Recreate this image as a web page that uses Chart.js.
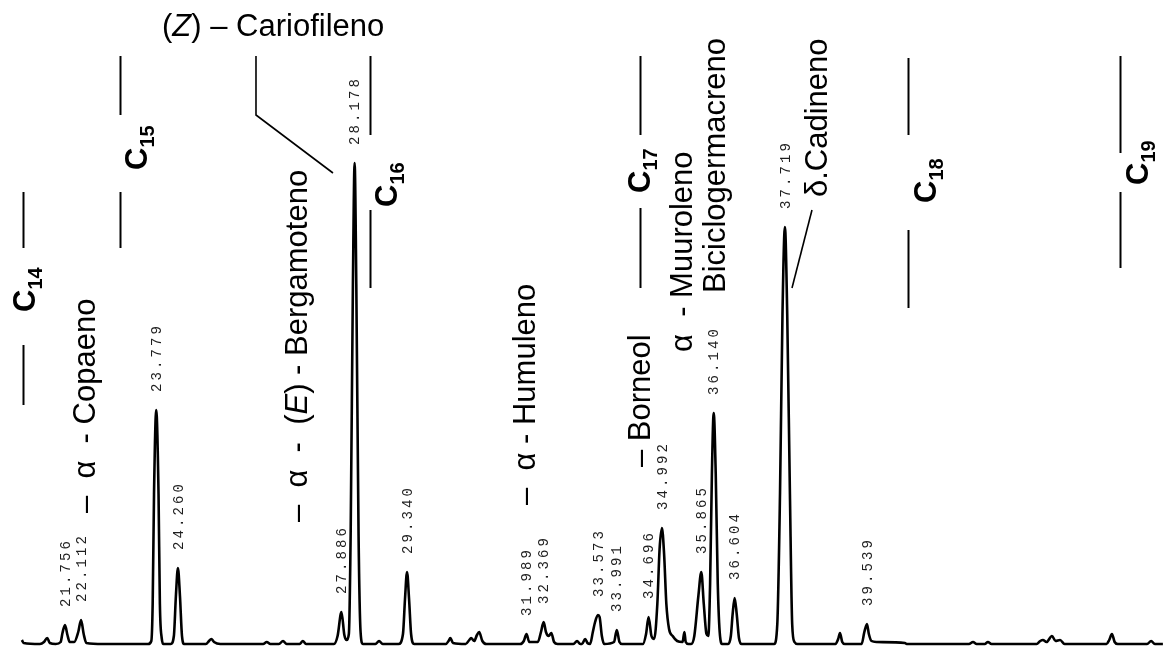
<!DOCTYPE html>
<html>
<head>
<meta charset="utf-8">
<script src="https://cdn.jsdelivr.net/npm/chart.js@4.4.1/dist/chart.umd.min.js"></script>
<style>
    html, body { margin: 0; padding: 0; background: #fff; }
    #wrap { width: 1164px; height: 651px; position: relative; }
</style>
</head>
<body>
<div id="wrap"><canvas id="chromatogram"></canvas></div>
<script>
// labelled peaks: retention time (min) and detector signal at the apex
const peakTimes = [21.756, 22.112, 23.779, 24.260, 27.886, 28.178, 29.340, 31.989, 32.369,
    33.573, 33.991, 34.696, 34.992, 35.865, 36.140, 36.604, 37.719, 39.539];
const peakHeights = [19, 24, 234, 76, 32, 481, 72, 10, 22, 29, 14, 27, 116, 72, 231, 46, 417, 20];

// rest of the trace (flanks, baseline, small unlabelled peaks)
const traceTimes = [
    20.80, 20.84, 21.20, 21.29, 21.36, 21.42, 21.55, 21.66, 21.70, 21.81, 21.86, 21.96, 22.05,
    22.17, 22.23, 22.60, 23.60, 23.67, 23.70, 23.73, 23.83, 23.86, 23.90, 23.94,
    24.10, 24.17, 24.215, 24.305, 24.35, 24.40, 24.88, 24.95, 25.00, 25.06, 25.20,
    26.15, 26.23, 26.31, 26.50, 26.59, 26.67, 26.96, 27.03, 27.10, 27.72, 27.80,
    27.95, 28.00, 28.05, 28.09, 28.14, 28.215, 28.265, 28.31, 28.36, 28.64, 28.72, 28.80,
    29.15, 29.25, 29.295, 29.385, 29.43, 29.50, 30.20, 30.26, 30.30, 30.36, 30.64, 30.72,
    30.76, 30.83, 30.89, 30.94, 31.01, 31.10, 31.85, 31.93, 32.05, 32.24, 32.31,
    32.42, 32.48, 32.54, 32.60, 32.68, 33.03, 33.11, 33.18, 33.22, 33.29, 33.34, 33.40,
    33.46, 33.51, 33.61, 33.66, 33.71, 33.93, 34.05, 34.11, 34.57, 34.64,
    34.76, 34.82, 34.89, 34.94, 35.04, 35.09, 35.15, 35.23, 35.33, 35.45, 35.49, 35.52,
    35.58, 35.64, 35.71, 35.80, 35.92, 35.98, 36.02, 36.06, 36.10, 36.185, 36.23, 36.28,
    36.33, 36.46, 36.52, 36.56, 36.65, 36.70, 36.76, 37.48, 37.55, 37.61, 37.665,
    37.77, 37.83, 37.88, 37.93, 38.00, 38.84, 38.90, 38.94, 38.99, 39.05, 39.42, 39.48,
    39.58, 39.64, 39.75, 40.38, 40.42, 41.80, 41.89, 41.97, 42.15, 42.22,
    42.30, 43.30, 43.38, 43.44, 43.52, 43.64, 43.72, 43.82, 43.92, 44.85, 44.91, 44.97,
    45.03, 45.10, 45.75, 45.84, 45.92, 46.10
];
const traceSignal = [
    4, 1, 0, 2, 6, 1, 0, 2, 11, 9, 2, 2, 12,
    10, 1, 0, 0, 3, 40, 150, 150, 40, 6, 0,
    0, 8, 48, 48, 8, 0, 0, 3, 5, 2, 0,
    0, 2, 0, 0, 3, 0, 0, 3, 0, 0, 8,
    9, 4, 10, 110, 360, 360, 110, 12, 0, 0, 3, 0,
    0, 10, 45, 45, 10, 0, 0, 3, 6, 1, 0, 4,
    6, 3, 9, 12, 3, 0, 0, 3, 2, 2, 12,
    12, 8, 11, 2, 0, 0, 3, 0, 0, 5, 1, 0,
    12, 22, 27, 8, 0, 2, 2, 0, 0, 10,
    8, 5, 40, 95, 90, 40, 15, 8, 3, 2, 12, 2,
    0, 0, 8, 48, 40, 10, 8, 60, 170, 170, 60, 8,
    0, 0, 8, 30, 30, 6, 0, 0, 20, 150, 330,
    330, 150, 20, 2, 0, 0, 5, 11, 2, 0, 0, 12,
    10, 3, 2, 1, 0, 0, 2, 0, 0, 2,
    0, 0, 3, 4, 2, 8, 3, 4, 0, 0, 4, 10,
    2, 0, 0, 3, 0, 0
];

// compound names (rotated); *...* marks italic parts
const compoundNames = ['–  α  - Copaeno', '–  α  -  (*E*) - Bergamoteno', '–  α - Humuleno', '– Borneol',
    'α  - Muuroleno', 'Biciclogermacreno', 'δ.Cadineno'];
const compoundTimes = [22.42, 27.12, 32.18, 34.73, 35.66, 36.39, 38.65];
const compoundLevels = [131, 122, 139, 177, 292, 351, 447];

// horizontal name above the main peak, with its leader
const topName = '(*Z*) – Cariofileno';
const topNameTime = 23.907;
const topNameLevel = 608;
const leaderTimes = [[25.991, 25.991, 27.698], [38.319, 37.876]];
const leaderLevels = [[588, 529, 471], [434, 356]];

// n-alkane reference markers
const alkaneNumbers = ['14', '15', '16', '17', '18', '19'];
const alkaneTimes = [20.825, 22.976, 28.519, 34.506, 40.448, 45.148];
const alkaneSegments = [
    [[452, 396], [299, 239]],
    [[588, 529], [452, 396]],
    [[588, 509], [434, 356]],
    [[588, 509], [436, 356]],
    [[586, 509], [414, 336]],
    [[588, 491], [452, 376]]
];
const alkaneLabelTimes = [21.09, 23.57, 29.12, 34.73, 41.07, 45.77];
const alkaneLabelLevels = [332, 474, 437, 451, 441, 459];

const X_MIN = 20.3148;
const X_MAX = 46.1245;
const Y_MIN = -7;
const Y_MAX = 644;

function buildTrace() {
    const pts = [];
    traceTimes.forEach((t, i) => pts.push({ x: t, y: traceSignal[i] }));
    peakTimes.forEach((t, i) => pts.push({ x: t, y: peakHeights[i] }));
    pts.sort((a, b) => a.x - b.x);
    return pts;
}

const SANS = '"Liberation Sans", Arial, sans-serif';

function runs(text) {
    return text.split('*').map((s, i) => ({ text: s, italic: i % 2 === 1 }));
}

// draws text runs starting at the current origin, along the local x axis
function drawRuns(ctx, parts, size) {
    let off = 0;
    parts.forEach(p => {
        if (!p.text) return;
        ctx.font = (p.italic ? 'italic ' : '') + size + 'px ' + SANS;
        ctx.fillText(p.text, off, 0);
        off += ctx.measureText(p.text).width;
    });
}

const annotations = {
    id: 'annotations',
    afterDatasetsDraw(chart) {
        const ctx = chart.ctx;
        const xs = chart.scales.x;
        const ys = chart.scales.y;
        ctx.save();
        ctx.fillStyle = '#000';
        ctx.strokeStyle = '#000';
        ctx.textAlign = 'left';

        // retention time labels above the peaks
        ctx.fillStyle = '#1e1e1e';
        ctx.font = '14px "Liberation Mono", "DejaVu Sans Mono", monospace';
        ctx.textBaseline = 'middle';
        peakTimes.forEach((t, i) => {
            const label = t.toFixed(3);
            ctx.save();
            ctx.translate(xs.getPixelForValue(t) + 1, ys.getPixelForValue(peakHeights[i]) - 18);
            ctx.rotate(-Math.PI / 2);
            for (let k = 0; k < label.length; k++) {
                ctx.fillText(label[k], k * 11.5, 0);
            }
            ctx.restore();
        });

        ctx.fillStyle = '#000';
        ctx.textBaseline = 'alphabetic';

        // compound names
        compoundNames.forEach((name, i) => {
            ctx.save();
            ctx.translate(xs.getPixelForValue(compoundTimes[i]), ys.getPixelForValue(compoundLevels[i]));
            ctx.rotate(-Math.PI / 2);
            drawRuns(ctx, runs(name), 31);
            ctx.restore();
        });

        ctx.save();
        ctx.translate(xs.getPixelForValue(topNameTime), ys.getPixelForValue(topNameLevel));
        drawRuns(ctx, runs(topName), 31);
        ctx.restore();

        // leader lines
        ctx.lineWidth = 1.6;
        leaderTimes.forEach((ts, i) => {
            ctx.beginPath();
            ts.forEach((t, k) => {
                const px = xs.getPixelForValue(t);
                const py = ys.getPixelForValue(leaderLevels[i][k]);
                if (k === 0) ctx.moveTo(px, py); else ctx.lineTo(px, py);
            });
            ctx.stroke();
        });

        // alkane markers
        ctx.lineWidth = 2;
        alkaneTimes.forEach((t, i) => {
            const px = Math.round(xs.getPixelForValue(t)) + 0.5;
            alkaneSegments[i].forEach(seg => {
                ctx.beginPath();
                ctx.moveTo(px, ys.getPixelForValue(seg[0]));
                ctx.lineTo(px, ys.getPixelForValue(seg[1]));
                ctx.stroke();
            });
            ctx.save();
            ctx.translate(xs.getPixelForValue(alkaneLabelTimes[i]), ys.getPixelForValue(alkaneLabelLevels[i]));
            ctx.rotate(-Math.PI / 2);
            ctx.font = 'bold 31px ' + SANS;
            ctx.fillText('C', 0, 0);
            const w = ctx.measureText('C').width;
            ctx.font = 'bold 20px ' + SANS;
            ctx.fillText(alkaneNumbers[i], w, 7);
            ctx.restore();
        });

        ctx.restore();
    }
};

const whiteBackground = {
    id: 'whiteBackground',
    beforeDraw(chart) {
        const ctx = chart.ctx;
        ctx.save();
        ctx.fillStyle = '#fff';
        ctx.fillRect(0, 0, chart.width, chart.height);
        ctx.restore();
    }
};

const chart = new Chart(document.getElementById('chromatogram').getContext('2d'), {
    type: 'line',
    data: {
        datasets: [{
            data: buildTrace(),
            borderColor: '#000',
            borderWidth: 2.6,
            pointRadius: 0,
            fill: false,
            cubicInterpolationMode: 'monotone'
        }]
    },
    options: {
        responsive: true,
        maintainAspectRatio: false,
        animation: false,
        layout: { padding: 0 },
        plugins: {
            legend: { display: false },
            tooltip: { enabled: false }
        },
        scales: {
            x: { type: 'linear', min: X_MIN, max: X_MAX, display: false },
            y: { type: 'linear', min: Y_MIN, max: Y_MAX, display: false }
        }
    },
    plugins: [whiteBackground, annotations]
});
</script>
</body>
</html>
